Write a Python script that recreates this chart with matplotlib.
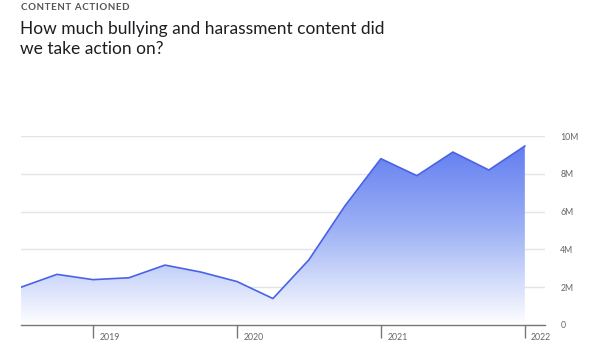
import matplotlib
matplotlib.use("Agg")
import matplotlib.pyplot as plt
import numpy as np
from matplotlib.colors import LinearSegmentedColormap

quarters = np.arange(15)
values_m = [2.0, 2.68, 2.4, 2.5, 3.17, 2.8, 2.3, 1.4, 3.45, 6.3, 8.8, 7.9, 9.15, 8.2, 9.47]
year_ticks = [2, 6, 10, 14]
year_labels = ["2019", "2020", "2021", "2022"]
y_ticks = [0, 2, 4, 6, 8, 10]
y_labels = ["0", "2M", "4M", "6M", "8M", "10M"]

plt.rcParams['font.family'] = ['Lato', 'DejaVu Sans']

fig = plt.figure(figsize=(6, 3.52), dpi=100)
ax = fig.add_axes([21/600, 1-325/352, (545-21)/600, (325-136)/352])
ax.set_xlim(0, 14.56)
ax.set_ylim(0, 10)

line_c = '#4a63e6'
poly = ax.fill_between(quarters, values_m, 0, color='none', lw=0)
grad = np.linspace(0, 1, 256).reshape(-1, 1)
cmap = LinearSegmentedColormap.from_list('g', [(1, 1, 1, 1), (0.62, 0.70, 0.96, 1), (0.36, 0.47, 0.94, 1)])
img = ax.imshow(grad, cmap=cmap, aspect='auto', origin='lower',
                extent=[0, 14, 0, 10], zorder=1)
img.set_clip_path(poly.get_paths()[0], transform=ax.transData)
ax.plot(quarters, values_m, color=line_c, lw=1.2, zorder=3)

ax.set_yticks(y_ticks)
ax.set_yticklabels(y_labels)
ax.yaxis.tick_right()
ax.tick_params(axis='y', length=0, pad=11, labelsize=6.3, labelcolor='#666666')
ax.grid(axis='y', color='#e3e3e8', lw=1)
ax.set_axisbelow(True)

ax.set_xticks(year_ticks)
ax.set_xticklabels([])
ax.tick_params(axis='x', length=9.5, width=1, color='#777777')
for xt, lab in zip(year_ticks, year_labels):
    ax.annotate(lab, xy=(xt, 0), xycoords='data', xytext=(4.5, -9), textcoords='offset points',
                ha='left', va='center', fontsize=6.3, color='#666666')

for s in ['top', 'right', 'left']:
    ax.spines[s].set_visible(False)
ax.spines['bottom'].set_color('#777777')
ax.spines['bottom'].set_linewidth(1)

kicker = "\u200a".join("CONTENT ACTIONED")
fig.text(21/600, 1-8/352, kicker, fontsize=7, color='#555555',
         fontweight='bold', va='center', ha='left')
fig.text(20/600, 1-39/352, "How much bullying and harassment content did\nwe take action on?",
         fontsize=12.5, color='#1c1e21', va='center', ha='left', linespacing=1.25)

fig.savefig('out.png', dpi=100)
